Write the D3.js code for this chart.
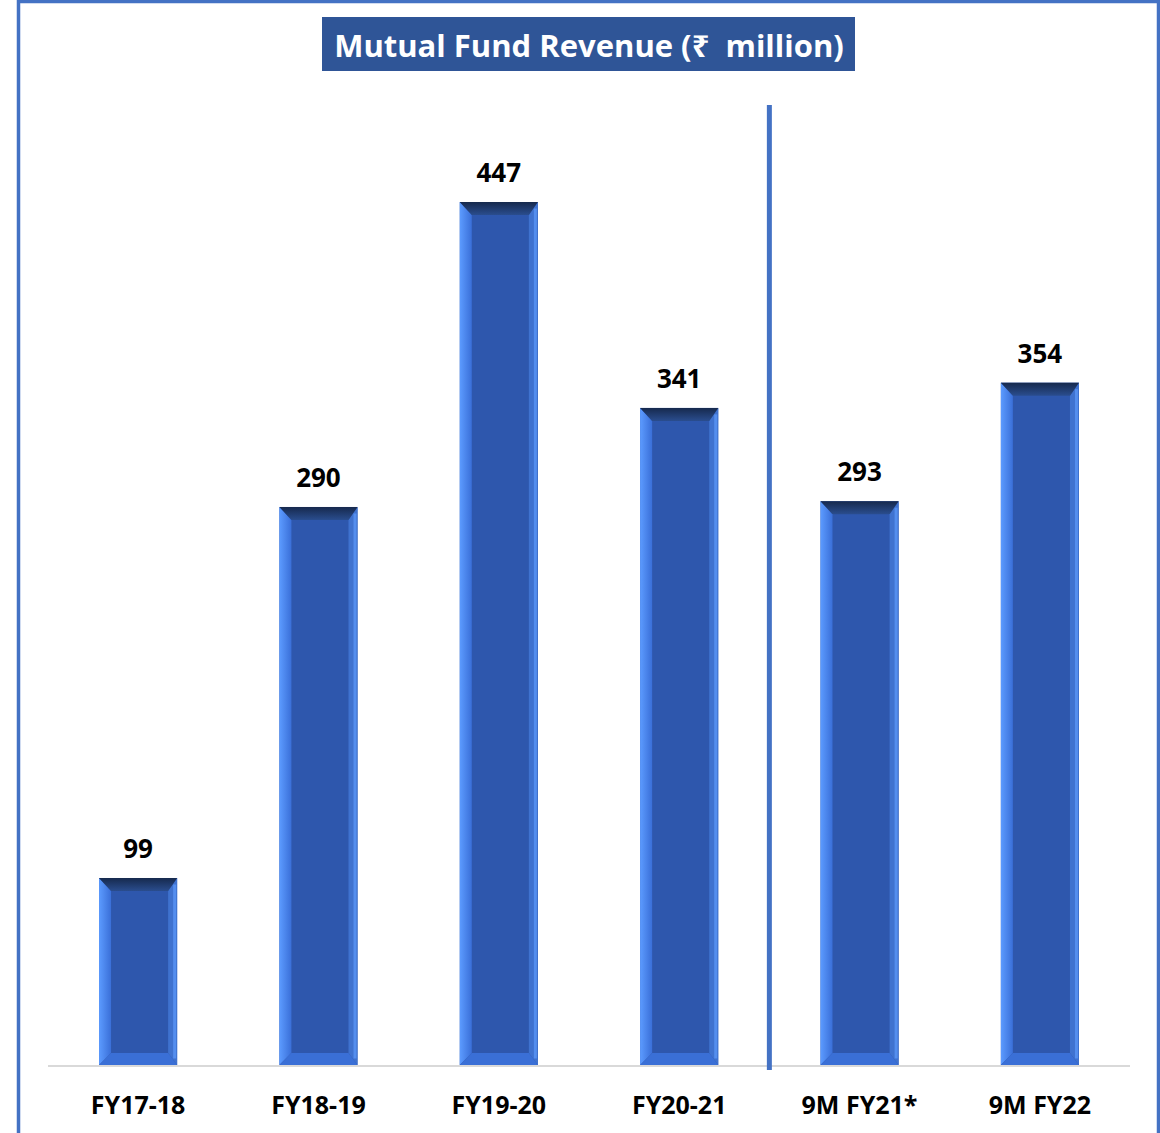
<!DOCTYPE html>
<html><head><meta charset="utf-8">
<script src="https://cdn.jsdelivr.net/npm/d3@7"></script>
<style>html,body{margin:0;padding:0;background:#fff;}svg{display:block;}</style>
</head><body>
<script>
const categories = ["FY17-18","FY18-19","FY19-20","FY20-21","9M FY21*","9M FY22"];
const values = [99, 290, 447, 341, 293, 354];
const titleText = "Mutual Fund Revenue (\u20B9  million)";

const W = 1160, H = 1133;
const svg = d3.select("body").append("svg").attr("width", W).attr("height", H);
const font = "'Open Sans','Noto Sans','DejaVu Sans',sans-serif";

const defs = svg.append("defs");
const gl = defs.append("linearGradient").attr("id","lg").attr("x1","0").attr("x2","1").attr("y1","0").attr("y2","0");
gl.append("stop").attr("offset","0").attr("stop-color","#5C9BFF");
gl.append("stop").attr("offset","1").attr("stop-color","#3A6FD8");
const gt = defs.append("linearGradient").attr("id","tg").attr("x1","0").attr("x2","0").attr("y1","0").attr("y2","1");
gt.append("stop").attr("offset","0").attr("stop-color","#16294D");
gt.append("stop").attr("offset","1").attr("stop-color","#2A4D8E");

// outer border
svg.append("rect").attr("x",18.5).attr("y",1.5).attr("width",1140).attr("height",1150)
  .attr("fill","none").attr("stroke","#4472C4").attr("stroke-width",3.5);

const axisY = 1066;
const x = d3.scaleBand().domain(categories).range([48, 1130]).paddingInner(0.567).paddingOuter(0.283);
const y = d3.scaleLinear().domain([0, 447]).range([1070.3, 202]);

// axis line
svg.append("line").attr("x1",48).attr("x2",1130).attr("y1",axisY).attr("y2",axisY)
  .attr("stroke","#d9d9d9").attr("stroke-width",2);

const gB = svg.append("g");
const bw = x.bandwidth();
const bars = gB.selectAll("g.bar").data(categories.map((c,i)=>({c, v: values[i]}))).join("g");
bars.each(function(d){
  const g = d3.select(this);
  const x0 = x(d.c), x1 = x0 + bw, y0 = y(d.v), y1 = axisY - 1;
  const t = 13, l = 12, r = 9, b = 12;
  g.append("rect").attr("x",x0).attr("y",y0).attr("width",bw).attr("height",y1-y0).attr("fill","#2E57AD");
  // left bevel
  g.append("polygon").attr("points",[[x0,y0],[x0+l,y0+t],[x0+l,y1-b],[x0,y1]].join(" ")).attr("fill","url(#lg)");
  // right bevel
  g.append("polygon").attr("points",[[x1,y0],[x1-r,y0+t],[x1-r,y1-b],[x1,y1]].join(" ")).attr("fill","#3F72CF");
  g.append("rect").attr("x",x1-4).attr("y",y0+t/2).attr("width",3).attr("height",y1-y0-t).attr("fill","#5A95F5").attr("opacity",0.8);
  // bottom bevel
  g.append("polygon").attr("points",[[x0,y1],[x0+l,y1-b],[x1-r,y1-b],[x1,y1]].join(" ")).attr("fill","#3A6FD6");
  // top bevel
  g.append("polygon").attr("points",[[x0,y0],[x1,y0],[x1-r,y0+t],[x0+l,y0+t]].join(" ")).attr("fill","url(#tg)");
});

// value labels
svg.append("g").selectAll("text").data(values).join("text")
  .attr("x",(d,i)=>x(categories[i])+bw/2).attr("y",d=>y(d)-20)
  .attr("text-anchor","middle").attr("font-family",font).attr("font-weight",700)
  .attr("font-size",26).attr("fill","#000").text(d=>d);

// category labels
svg.append("g").selectAll("text").data(categories).join("text")
  .attr("x",d=>x(d)+bw/2).attr("y",1114)
  .attr("text-anchor","middle").attr("font-family",font).attr("font-weight",700)
  .attr("font-size",25).attr("fill","#000").text(d=>d);

// separator
const sepX = (x(categories[3]) + bw + x(categories[4]))/2;
svg.append("line").attr("x1",sepX).attr("x2",sepX).attr("y1",105).attr("y2",1070)
  .attr("stroke","#4472C4").attr("stroke-width",5);

// title
svg.append("rect").attr("x",322).attr("y",17).attr("width",533).attr("height",54).attr("fill","#2F5597");
svg.append("text").attr("x",589).attr("y",57).attr("text-anchor","middle")
  .style("white-space","pre").attr("xml:space","preserve")
  .attr("font-family",font).attr("font-weight",700).attr("font-size",31)
  .attr("fill","#fff").text(titleText);
</script>
</body></html>
